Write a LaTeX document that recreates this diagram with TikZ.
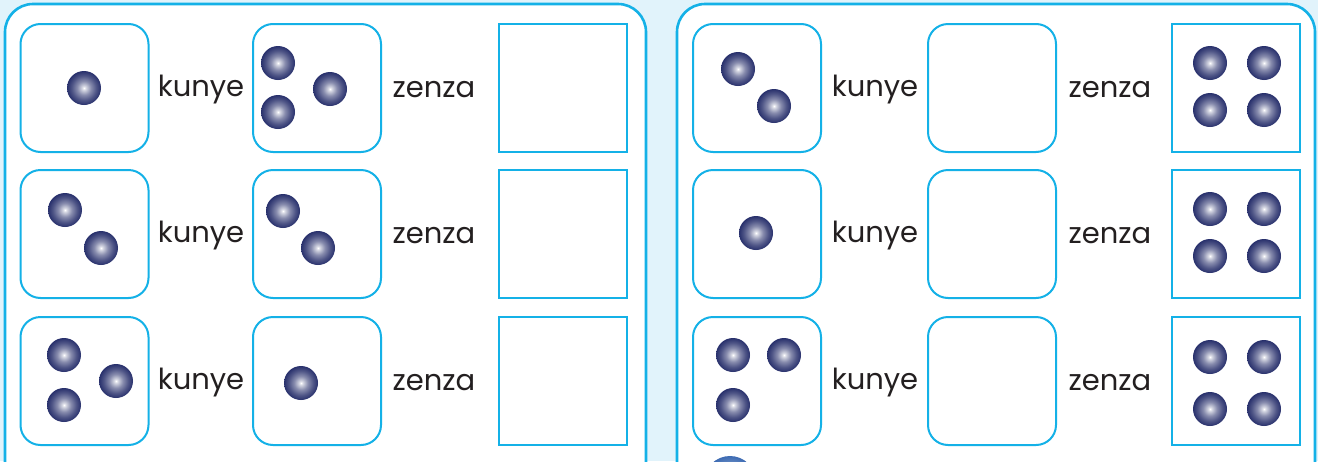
\documentclass[tikz,border=0pt]{standalone}
\usepackage{fontspec}
\newfontfamily\kfont{Poppins}
\definecolor{bgblue}{HTML}{E1F3FB}
\definecolor{cyanline}{HTML}{14B1E7}
\definecolor{navy}{HTML}{28306C}
\definecolor{ink}{HTML}{231F20}
\definecolor{partball}{HTML}{3D6BB3}
\pgfdeclareradialshading{ballsh}{\pgfpoint{0bp}{0bp}}{%
  color(0bp)=(white); color(3bp)=(white!80!navy); color(10bp)=(white!45!navy);
  color(18bp)=(white!18!navy); color(25bp)=(navy); color(50bp)=(navy)}
\tikzset{
  panel/.style={draw=cyanline, line width=2.6pt, fill=white, rounded corners=28pt},
  rbox/.style={draw=cyanline, line width=2pt, fill=white, rounded corners=20pt, minimum size=128pt, inner sep=0pt},
  sbox/.style={draw=cyanline, line width=2.4pt, fill=white, minimum size=128pt, inner sep=0pt},
  ball/.style={circle, minimum size=34pt, inner sep=0pt, shading=ballsh},
  word/.style={text=ink, font=\kfont\fontsize{29}{34}\selectfont, inner sep=0pt}
}
\begin{document}
\begin{tikzpicture}[x=1pt,y=-1pt]
\useasboundingbox (0,0) rectangle (1318,461);
\fill[bgblue] (0,0) rectangle (1318,461);
\begin{scope}
\clip (0,0) rectangle (1318,461);
\draw[panel] (5,4) rectangle (646,490);
\draw[panel] (677,4) rectangle (1315,490);
\shade[inner color=white!70!partball, outer color=partball] (730,482) circle (26);
\end{scope}
\foreach \r/\y in {1/88,2/234,3/381}{
  \node[rbox] (La\r) at (84.5,\y) {};
  \node[rbox] (Lb\r) at (317,\y) {};
  \node[sbox] (Lc\r) at (563,\y) {};
  \node[word] (Lk\r) at (201,\y+2) {kunye};
  \node[word] (Lz\r) at (434,\y+2) {zenza};
  \node[rbox] (Ra\r) at (757,\y) {};
  \node[rbox] (Rb\r) at (992,\y) {};
  \node[sbox] (Rc\r) at (1236,\y) {};
  \node[word] (Rk\r) at (875,\y+2) {kunye};
  \node[word] (Rz\r) at (1110,\y+2) {zenza};
}
% balls left panel
\node[ball] (b1) at (84,88) {};
\node[ball] (b2) at (278,63) {};
\node[ball] (b3) at (330,89) {};
\node[ball] (b4) at (278,112) {};
\node[ball] (b5) at (65,210) {};
\node[ball] (b6) at (101,248) {};
\node[ball] (b7) at (283,211) {};
\node[ball] (b8) at (318,248) {};
\node[ball] (b9) at (64,355) {};
\node[ball] (b10) at (116,381) {};
\node[ball] (b11) at (64,405) {};
\node[ball] (b12) at (301,383) {};
% balls right panel
\node[ball] (c1) at (738,69) {};
\node[ball] (c2) at (774,106) {};
\node[ball] (c3) at (1210,63) {};
\node[ball] (c4) at (1264,63) {};
\node[ball] (c5) at (1210,110) {};
\node[ball] (c6) at (1264,110) {};
\node[ball] (c7) at (756,233) {};
\node[ball] (c8) at (1210,209) {};
\node[ball] (c9) at (1264,209) {};
\node[ball] (c10) at (1210,256) {};
\node[ball] (c11) at (1264,256) {};
\node[ball] (c12) at (733,355) {};
\node[ball] (c13) at (784,355) {};
\node[ball] (c14) at (733,405) {};
\node[ball] (c15) at (1210,357) {};
\node[ball] (c16) at (1264,357) {};
\node[ball] (c17) at (1210,409) {};
\node[ball] (c18) at (1264,409) {};
\end{tikzpicture}
\end{document}
